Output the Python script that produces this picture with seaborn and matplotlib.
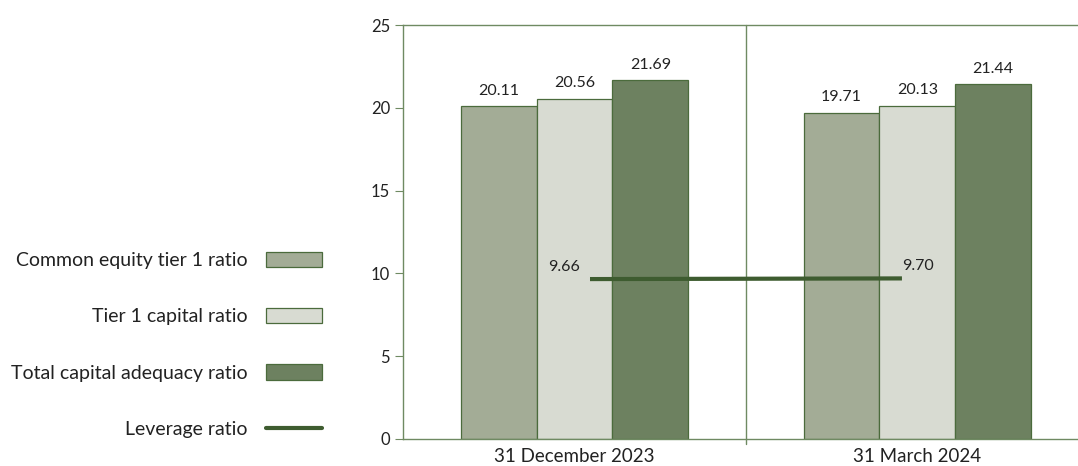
import numpy as np
import pandas as pd
import seaborn as sns
import matplotlib.pyplot as plt
from matplotlib.patches import Patch
from matplotlib.lines import Line2D

# data
dates = ["31 December 2023", "31 March 2024"]
series = ["Common equity tier 1 ratio", "Tier 1 capital ratio", "Total capital adequacy ratio"]
cet1 = [20.11, 19.71]
tier1 = [20.56, 20.13]
total_car = [21.69, 21.44]
leverage = [9.66, 9.70]

colors = ["#a3ac96", "#d8dbd2", "#6d8160"]
edge = "#4b6b3c"
line_col = "#3e5c30"
spine_col = "#6f8a62"

df = pd.DataFrame({
    "date": dates * 3,
    "series": np.repeat(series, 2),
    "value": cet1 + tier1 + total_car,
})

sns.set_style("white")
plt.rcParams["font.family"] = ["Lato", "DejaVu Sans"]

fig = plt.figure(figsize=(10.78, 4.66), dpi=100)
ax = fig.add_axes([0.374, 0.058, 0.636, 0.888])

sns.barplot(data=df, x="date", y="value", hue="series", palette=colors,
            width=0.663, edgecolor=edge, linewidth=0.9, saturation=1,
            legend=False, ax=ax)

for cont in ax.containers:
    ax.bar_label(cont, fmt="%.2f", padding=6, fontsize=11.5, color="#222222")

# leverage ratio line
xs = np.arange(len(dates)) + np.array([0.045, -0.045])
ax.plot(xs, leverage, color=line_col, lw=3, solid_capstyle="butt", zorder=5)
ax.annotate(f"{leverage[0]:.2f}", (xs[0], leverage[0]), xytext=(-30, 6),
            textcoords="offset points", fontsize=11.5, color="#222222")
ax.annotate(f"{leverage[1]:.2f}", (xs[1], leverage[1]), xytext=(0, 6),
            textcoords="offset points", fontsize=11.5, color="#222222")

ax.axvline(0.5, ymin=-0.012, ymax=1, color=spine_col, lw=1, clip_on=False)

ax.set_ylim(0, 25)
ax.set_yticks(range(0, 26, 5))
ax.set_xlim(-0.5, 1.5)
ax.set_xlabel("")
ax.set_ylabel("")
ax.tick_params(axis="y", left=True, length=6, color=spine_col, labelsize=12, labelcolor="#222222")
ax.tick_params(axis="x", bottom=False, labelsize=13.5, labelcolor="#222222", pad=3)
for s in ["left", "bottom", "top"]:
    ax.spines[s].set_color(spine_col)
    ax.spines[s].set_linewidth(1)
ax.spines["right"].set_visible(False)

handles = [Patch(facecolor=c, edgecolor=edge, linewidth=0.9) for c in colors]
handles.append(Line2D([0], [0], color=line_col, lw=3))
labels = series + ["Leverage ratio"]
fig.legend(handles, labels, loc="center right", bbox_to_anchor=(0.299, 0.26),
           markerfirst=False, frameon=False, fontsize=14, labelspacing=2.0,
           handlelength=2.9, handleheight=0.85, handletextpad=0.95,
           borderpad=0, borderaxespad=0, labelcolor="#222222")

plt.savefig("out.png", dpi=100)
